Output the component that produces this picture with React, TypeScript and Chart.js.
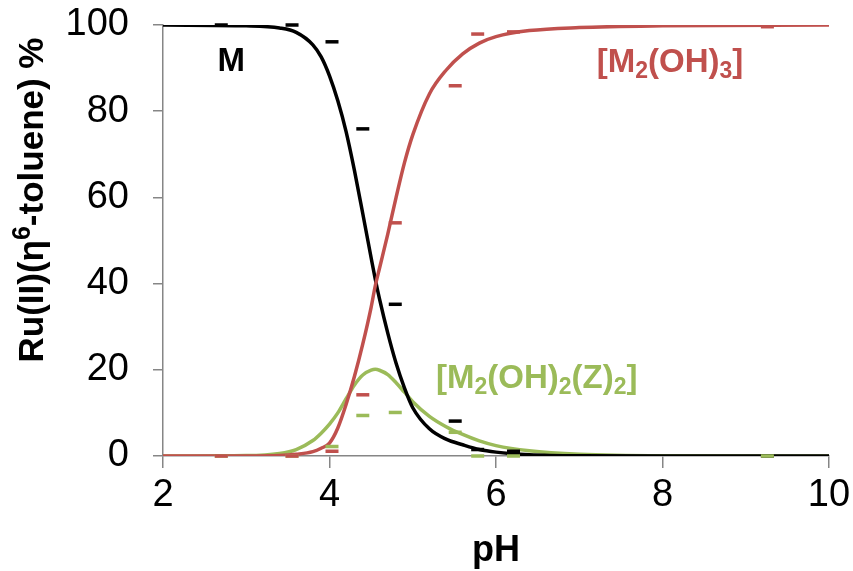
import React, { useEffect, useRef } from "react";
import { Chart, registerables } from "chart.js";

Chart.register(...registerables);

// Curve sampling points (pH)
const curvePH = [2, 3, 3.4, 3.6, 3.8, 3.9, 4.0, 4.1, 4.2, 4.3, 4.4, 4.5, 4.55, 4.6, 4.7, 4.8, 4.9, 5.0, 5.2, 5.4, 5.6, 5.8, 6.0, 6.4, 7, 8, 10];
const curveM = [100, 99.8, 99.3, 98.3, 95.4, 92.6, 88.2, 82.4, 75.2, 66.2, 56.2, 46, 41, 36.5, 28.5, 21.5, 15.8, 11.2, 6.3, 3.9, 2.6, 1.5, 0.9, 0.3, 0.05, 0, 0];
const curveM2OH3 = [0, 0, 0.1, 0.4, 1.0, 1.8, 3.0, 6.5, 12, 18.5, 26, 34.5, 39.5, 43.5, 51.5, 60, 68, 74.5, 84, 89.5, 93.3, 95.8, 97.3, 98.7, 99.4, 99.8, 100];
const curveM2OH2Z2 = [0, 0.1, 0.6, 1.5, 3.6, 5.3, 7.4, 10.0, 13.3, 16.5, 18.8, 19.9, 20.1, 19.9, 18.9, 17.0, 14.8, 12.6, 9.2, 6.8, 5.0, 3.5, 2.4, 1.2, 0.4, 0.05, 0];

// Experimental points (pH)
const expPH = [2.7, 3.55, 4.03, 4.4, 4.79, 5.51, 5.78, 6.21, 9.26];
const expM = [100, 100, 96.1, 75.9, 35.2, 8.1, 1.5, 1.1, 0];
const expM2OH3 = [0, 0, 1.1, 14.2, 54.1, 85.9, 97.9, 98.4, 99.6];
const expM2OH2Z2 = [0, 0, 2.2, 9.4, 10.1, 5.5, 0, 0, 0];

const xTicks = [2, 4, 6, 8, 10];
const yTicks = [0, 20, 40, 60, 80, 100];

const BLACK = "#000000";
const RED = "#C0504D";
const GREEN = "#9BBB59";
const AXIS = "#868686";
const FONT = "'Liberation Sans', Arial, sans-serif";

type Seg = { t: string; sub?: boolean; sup?: boolean };
const labels: { segs: Seg[]; x: number; y: number; color: string }[] = [
  { segs: [{ t: "M" }], x: 2.82, y: 89.3, color: BLACK },
  { segs: [{ t: "[M" }, { t: "2", sub: true }, { t: "(OH)" }, { t: "3", sub: true }, { t: "]" }], x: 8.09, y: 89.1, color: RED },
  {
    segs: [{ t: "[M" }, { t: "2", sub: true }, { t: "(OH)" }, { t: "2", sub: true }, { t: "(Z)" }, { t: "2", sub: true }, { t: "]" }],
    x: 6.49,
    y: 15.8,
    color: GREEN,
  },
];
const yTitle: Seg[] = [{ t: "Ru(II)(η" }, { t: "6", sup: true }, { t: "-toluene) %" }];

const pts = (xs: number[], ys: number[]) => xs.map((x, i) => ({ x, y: ys[i] }));

function drawRich(ctx: CanvasRenderingContext2D, segs: Seg[], cx: number, by: number, size: number, color: string) {
  const small = Math.round(size * 0.7);
  let total = 0;
  for (const s of segs) {
    ctx.font = `bold ${s.sub || s.sup ? small : size}px ${FONT}`;
    total += ctx.measureText(s.t).width;
  }
  let x = cx - total / 2;
  ctx.fillStyle = color;
  for (const s of segs) {
    ctx.font = `bold ${s.sub || s.sup ? small : size}px ${FONT}`;
    const dy = s.sub ? size * 0.18 : s.sup ? -size * 0.38 : 0;
    ctx.fillText(s.t, x, by + dy);
    x += ctx.measureText(s.t).width;
  }
}

const labelPlugin = {
  id: "richLabels",
  afterDatasetsDraw(chart: any) {
    const ctx = chart.ctx;
    const xs = chart.scales.x;
    const ys = chart.scales.y;
    ctx.save();
    ctx.textBaseline = "alphabetic";
    ctx.textAlign = "left";
    for (const l of labels) {
      drawRich(ctx, l.segs, xs.getPixelForValue(l.x), ys.getPixelForValue(l.y), 33, l.color);
    }
    ctx.restore();
  },
  afterDraw(chart: any) {
    const ctx = chart.ctx;
    ctx.save();
    ctx.translate(43, 200);
    ctx.rotate(-Math.PI / 2);
    ctx.textBaseline = "alphabetic";
    ctx.textAlign = "left";
    drawRich(ctx, yTitle, 0, 0, 35, "#000");
    ctx.restore();
  },
};

export default function App() {
  const ref = useRef<HTMLCanvasElement>(null);
  useEffect(() => {
    const curve = (data: number[], color: string) => ({
      type: "line" as const,
      data: pts(curvePH, data),
      borderColor: color,
      backgroundColor: color,
      borderWidth: 3.5,
      pointRadius: 0,
      cubicInterpolationMode: "monotone" as const,
      order: 1,
    });
    const marks = (data: number[], color: string) => ({
      type: "line" as const,
      data: pts(expPH, data),
      showLine: false,
      borderColor: color,
      backgroundColor: color,
      pointStyle: "line" as const,
      pointRadius: 6.5,
      pointBorderWidth: 3.5,
      pointBorderColor: color,
      order: 0,
      clip: false as any,
    });
    const chart = new Chart(ref.current!, {
      type: "line",
      data: {
        datasets: [
          curve(curveM2OH3, RED),
          curve(curveM, BLACK),
          curve(curveM2OH2Z2, GREEN),
          marks(expM2OH3, RED),
          marks(expM2OH2Z2, GREEN),
          marks(expM, BLACK),
        ] as any,
      },
      options: {
        animation: false,
        responsive: false,
        maintainAspectRatio: false,
        layout: { padding: { top: 25, right: 24, left: 0, bottom: 0 } },
        plugins: { legend: { display: false }, tooltip: { enabled: false } },
        scales: {
          x: {
            type: "linear",
            min: 2,
            max: 10,
            afterFit: (s: any) => {
              s.height = 115;
              s.paddingLeft = 0;
              s.paddingRight = 0;
            },
            afterBuildTicks: (s: any) => {
              s.ticks = xTicks.map((v) => ({ value: v }));
            },
            grid: { display: true, drawOnChartArea: false, drawTicks: true, tickLength: 12, color: AXIS, lineWidth: 1.5 },
            border: { display: true, color: AXIS, width: 1.5 },
            ticks: { color: "#000", font: { family: FONT, size: 38 }, padding: 5, maxRotation: 0 },
            title: {
              display: true,
              text: "pH",
              color: "#000",
              font: { family: FONT, size: 36, weight: "bold", lineHeight: 1.1 },
              padding: 0,
            },
          },
          y: {
            type: "linear",
            min: 0,
            max: 100,
            afterFit: (s: any) => {
              s.width = 163;
              s.paddingTop = 0;
              s.paddingBottom = 0;
            },
            afterBuildTicks: (s: any) => {
              s.ticks = yTicks.map((v) => ({ value: v }));
            },
            grid: { display: true, drawOnChartArea: false, drawTicks: true, tickLength: 10, color: AXIS, lineWidth: 1.5 },
            border: { display: true, color: AXIS, width: 1.5 },
            ticks: { color: "#000", font: { family: FONT, size: 38 }, padding: 24 },
            title: { display: false },
          },
        },
      } as any,
      plugins: [labelPlugin],
    });
    return () => chart.destroy();
  }, []);
  return (
    <div style={{ position: "fixed", left: 0, top: 0, width: 853, height: 571, background: "#fff" }}>
      <canvas ref={ref} width={853} height={571} style={{ width: 853, height: 571 }} />
    </div>
  );
}
